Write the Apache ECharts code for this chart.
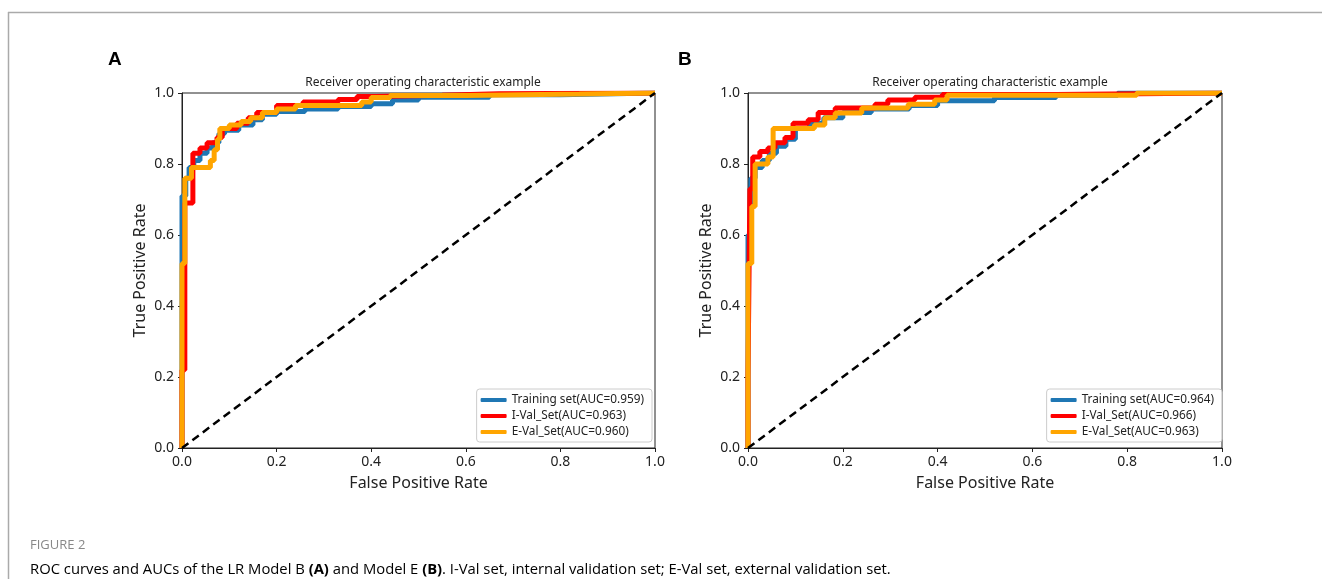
<!DOCTYPE html>
<html>
<head>
<meta charset="utf-8">
<script src="https://cdn.jsdelivr.net/npm/echarts@6/dist/echarts.min.js"></script>
<style>html,body{margin:0;padding:0;background:#fff;}#c{width:1322px;height:579px;}</style>
</head>
<body>
<div id="c"></div>
<script>
// ---- data ----
const xTicks = [0, 0.2, 0.4, 0.6, 0.8, 1.0];
const panelLabels = ['A', 'B'];
const chartTitle = 'Receiver operating characteristic example';
const namesA = ['Training set(AUC=0.959)', 'I-Val_Set(AUC=0.963)', 'E-Val_Set(AUC=0.960)'];
const namesB = ['Training set(AUC=0.964)', 'I-Val_Set(AUC=0.966)', 'E-Val_Set(AUC=0.963)'];

const trainA = [[0,0],[0,0.71],[0.008,0.71],[0.008,0.76],[0.015,0.76],[0.015,0.79],[0.025,0.79],[0.025,0.81],[0.038,0.81],[0.038,0.83],[0.053,0.83],[0.053,0.845],[0.065,0.845],[0.065,0.86],[0.078,0.86],[0.078,0.885],[0.09,0.885],[0.09,0.895],[0.12,0.895],[0.12,0.91],[0.15,0.91],[0.15,0.925],[0.17,0.925],[0.17,0.94],[0.2,0.94],[0.2,0.948],[0.26,0.948],[0.26,0.955],[0.33,0.955],[0.33,0.962],[0.4,0.962],[0.4,0.97],[0.445,0.97],[0.445,0.98],[0.5,0.98],[0.5,0.988],[0.65,0.988],[0.65,0.995],[0.8,0.995],[0.8,1],[1,1]];
const ivalA = [[0,0],[0,0.22],[0.006,0.22],[0.006,0.69],[0.023,0.69],[0.023,0.83],[0.038,0.83],[0.038,0.845],[0.053,0.845],[0.053,0.86],[0.074,0.86],[0.074,0.875],[0.085,0.875],[0.085,0.9],[0.116,0.9],[0.116,0.915],[0.14,0.915],[0.14,0.93],[0.158,0.93],[0.158,0.945],[0.2,0.945],[0.2,0.965],[0.256,0.965],[0.256,0.975],[0.33,0.975],[0.33,0.982],[0.37,0.982],[0.37,0.99],[0.41,0.99],[0.41,0.994],[0.55,0.994],[0.55,0.998],[0.67,0.998],[0.67,1],[1,1]];
const evalA = [[0,0],[0,0.52],[0.006,0.52],[0.006,0.76],[0.02,0.76],[0.02,0.79],[0.06,0.79],[0.06,0.81],[0.068,0.81],[0.068,0.84],[0.075,0.84],[0.075,0.87],[0.08,0.87],[0.08,0.9],[0.1,0.9],[0.1,0.91],[0.125,0.91],[0.125,0.92],[0.145,0.92],[0.145,0.93],[0.17,0.93],[0.17,0.945],[0.2,0.945],[0.2,0.955],[0.24,0.955],[0.24,0.965],[0.38,0.965],[0.38,0.975],[0.4,0.975],[0.4,0.987],[0.44,0.987],[0.44,0.993],[0.6,0.993],[0.6,0.997],[0.84,0.997],[0.84,1],[1,1]];

const trainB = [[0,0],[0,0.6],[0.006,0.6],[0.006,0.76],[0.015,0.76],[0.015,0.79],[0.03,0.79],[0.03,0.81],[0.045,0.81],[0.045,0.83],[0.06,0.83],[0.06,0.85],[0.08,0.85],[0.08,0.87],[0.1,0.87],[0.1,0.9],[0.13,0.9],[0.13,0.915],[0.16,0.915],[0.16,0.93],[0.2,0.93],[0.2,0.945],[0.26,0.945],[0.26,0.955],[0.34,0.955],[0.34,0.965],[0.4,0.965],[0.4,0.978],[0.52,0.978],[0.52,0.987],[0.65,0.987],[0.65,0.994],[0.78,0.994],[0.78,1],[1,1]];
const ivalB = [[0,0],[0,0.2],[0.004,0.2],[0.004,0.73],[0.01,0.73],[0.01,0.82],[0.025,0.82],[0.025,0.835],[0.042,0.835],[0.042,0.845],[0.057,0.845],[0.057,0.86],[0.078,0.86],[0.078,0.875],[0.095,0.875],[0.095,0.915],[0.127,0.915],[0.127,0.925],[0.148,0.925],[0.148,0.945],[0.184,0.945],[0.184,0.958],[0.268,0.958],[0.268,0.968],[0.295,0.968],[0.295,0.98],[0.352,0.98],[0.352,0.988],[0.41,0.988],[0.41,0.996],[0.65,0.996],[0.65,1],[1,1]];
const evalB = [[0,0],[0,0.52],[0.008,0.52],[0.008,0.68],[0.015,0.68],[0.015,0.8],[0.042,0.8],[0.042,0.82],[0.053,0.82],[0.053,0.9],[0.14,0.9],[0.14,0.91],[0.162,0.91],[0.162,0.93],[0.184,0.93],[0.184,0.944],[0.24,0.944],[0.24,0.958],[0.338,0.958],[0.338,0.968],[0.394,0.968],[0.394,0.98],[0.42,0.98],[0.42,0.994],[0.82,0.994],[0.82,1],[1,1]];
const diag = [[0,0],[1,1]];

const captionHead = 'FIGURE 2';
const captionParts = ['ROC curves and AUCs of the LR Model B ', '(A)', ' and Model E ', '(B)', '. I-Val set, internal validation set; E-Val set, external validation set.'];

// ---- chart ----
const COLORS = ['#1f77b4', '#ff0000', '#ffa500'];
const FONT = 'Noto Sans';
const chart = echarts.init(document.getElementById('c'), null, {renderer: 'canvas'});

const grids = [
  {left: 182, top: 93, width: 473, height: 355},
  {left: 748, top: 93, width: 474, height: 355}
];
function mkX(i) {
  return {
    gridIndex: i, type: 'value', min: 0, max: 1, interval: 0.2,
    name: 'False Positive Rate', nameLocation: 'middle', nameGap: 27,
    nameTextStyle: {fontFamily: FONT, fontSize: 16, color: '#222'},
    axisLine: {show: true, onZero: false, lineStyle: {color: '#222', width: 1}},
    axisTick: {show: true, inside: false, length: 4, lineStyle: {color: '#222'}},
    axisLabel: {fontFamily: FONT, fontSize: 14, color: '#222', margin: 7, formatter: v => v.toFixed(1)},
    splitLine: {show: false}
  };
}
function mkY(i) {
  return {
    gridIndex: i, type: 'value', min: 0, max: 1, interval: 0.2,
    name: 'True Positive Rate', nameLocation: 'middle', nameGap: 34, nameRotate: 90,
    nameTextStyle: {fontFamily: FONT, fontSize: 16, color: '#222'},
    axisLine: {show: true, onZero: false, lineStyle: {color: '#222', width: 1}},
    axisTick: {show: true, inside: false, length: 4, lineStyle: {color: '#222'}},
    axisLabel: {fontFamily: FONT, fontSize: 14, color: '#222', margin: 8, formatter: v => v.toFixed(1)},
    splitLine: {show: false}
  };
}
function mkLine(name, data, color, gi) {
  return {
    name: name, type: 'line', data: data, xAxisIndex: gi, yAxisIndex: gi,
    symbol: 'none', showSymbol: false, lineStyle: {color: color, width: 5}, itemStyle: {color: color},
    animation: false, z: 2
  };
}
function mkDiag(gi) {
  return {
    type: 'line', data: diag, xAxisIndex: gi, yAxisIndex: gi, symbol: 'none', silent: true,
    lineStyle: {color: '#000', width: 2.5, type: [8, 5]}, animation: false, z: 3
  };
}
function mkLegend(names, right) {
  return {
    data: names, orient: 'vertical', right: right, bottom: 137,
    icon: 'roundRect', itemWidth: 26, itemHeight: 4, itemGap: 4,
    padding: [5, 8, 4, 4], borderColor: '#cccccc', borderWidth: 1, borderRadius: 3,
    backgroundColor: 'rgba(255,255,255,0.8)',
    textStyle: {fontFamily: FONT, fontSize: 11.8, color: '#222'}
  };
}

const option = {
  backgroundColor: '#ffffff',
  animation: false,
  title: [
    {text: chartTitle, left: 418, top: 72, textAlign: 'center', textStyle: {fontFamily: FONT, fontSize: 12, fontWeight: 'normal', color: '#222'}},
    {text: chartTitle, left: 985, top: 72, textAlign: 'center', textStyle: {fontFamily: FONT, fontSize: 12, fontWeight: 'normal', color: '#222'}}
  ],
  grid: grids.map(g => Object.assign({show: true, borderColor: '#222', borderWidth: 1, backgroundColor: 'transparent'}, g)),
  xAxis: [mkX(0), mkX(1)],
  yAxis: [mkY(0), mkY(1)],
  legend: [mkLegend(namesA, 670), mkLegend(namesB, 100)],
  series: [
    mkLine(namesA[0], trainA, COLORS[0], 0),
    mkLine(namesA[1], ivalA, COLORS[1], 0),
    mkLine(namesA[2], evalA, COLORS[2], 0),
    mkDiag(0),
    mkLine(namesB[0], trainB, COLORS[0], 1),
    mkLine(namesB[1], ivalB, COLORS[1], 1),
    mkLine(namesB[2], evalB, COLORS[2], 1),
    mkDiag(1)
  ],
  graphic: [
    {type: 'line', shape: {x1: 8, y1: 12.5, x2: 1322, y2: 12.5}, style: {stroke: '#aaaaaa', lineWidth: 1.5}, silent: true},
    {type: 'line', shape: {x1: 8.5, y1: 12, x2: 8.5, y2: 579}, style: {stroke: '#aaaaaa', lineWidth: 1.5}, silent: true},
    {type: 'text', left: 108, top: 50, style: {text: panelLabels[0], font: 'bold 19px "Liberation Sans"', fill: '#000'}},
    {type: 'text', left: 678, top: 50, style: {text: panelLabels[1], font: 'bold 19px "Liberation Sans"', fill: '#000'}},
    {type: 'text', left: 30, top: 539, style: {text: captionHead, font: '13px "Open Sans"', fill: '#888888'}},
    {type: 'text', left: 30, top: 562, style: {
      text: '{n|' + captionParts[0] + '}{b|' + captionParts[1] + '}{n|' + captionParts[2] + '}{b|' + captionParts[3] + '}{n|' + captionParts[4] + '}',
      rich: {
        n: {fontFamily: 'Open Sans', fontSize: 14.8, color: '#555555'},
        b: {fontFamily: 'Open Sans', fontSize: 14.8, fontWeight: 'bold', color: '#555555'}
      }
    }}
  ]
};
chart.setOption(option);
</script>
</body>
</html>
